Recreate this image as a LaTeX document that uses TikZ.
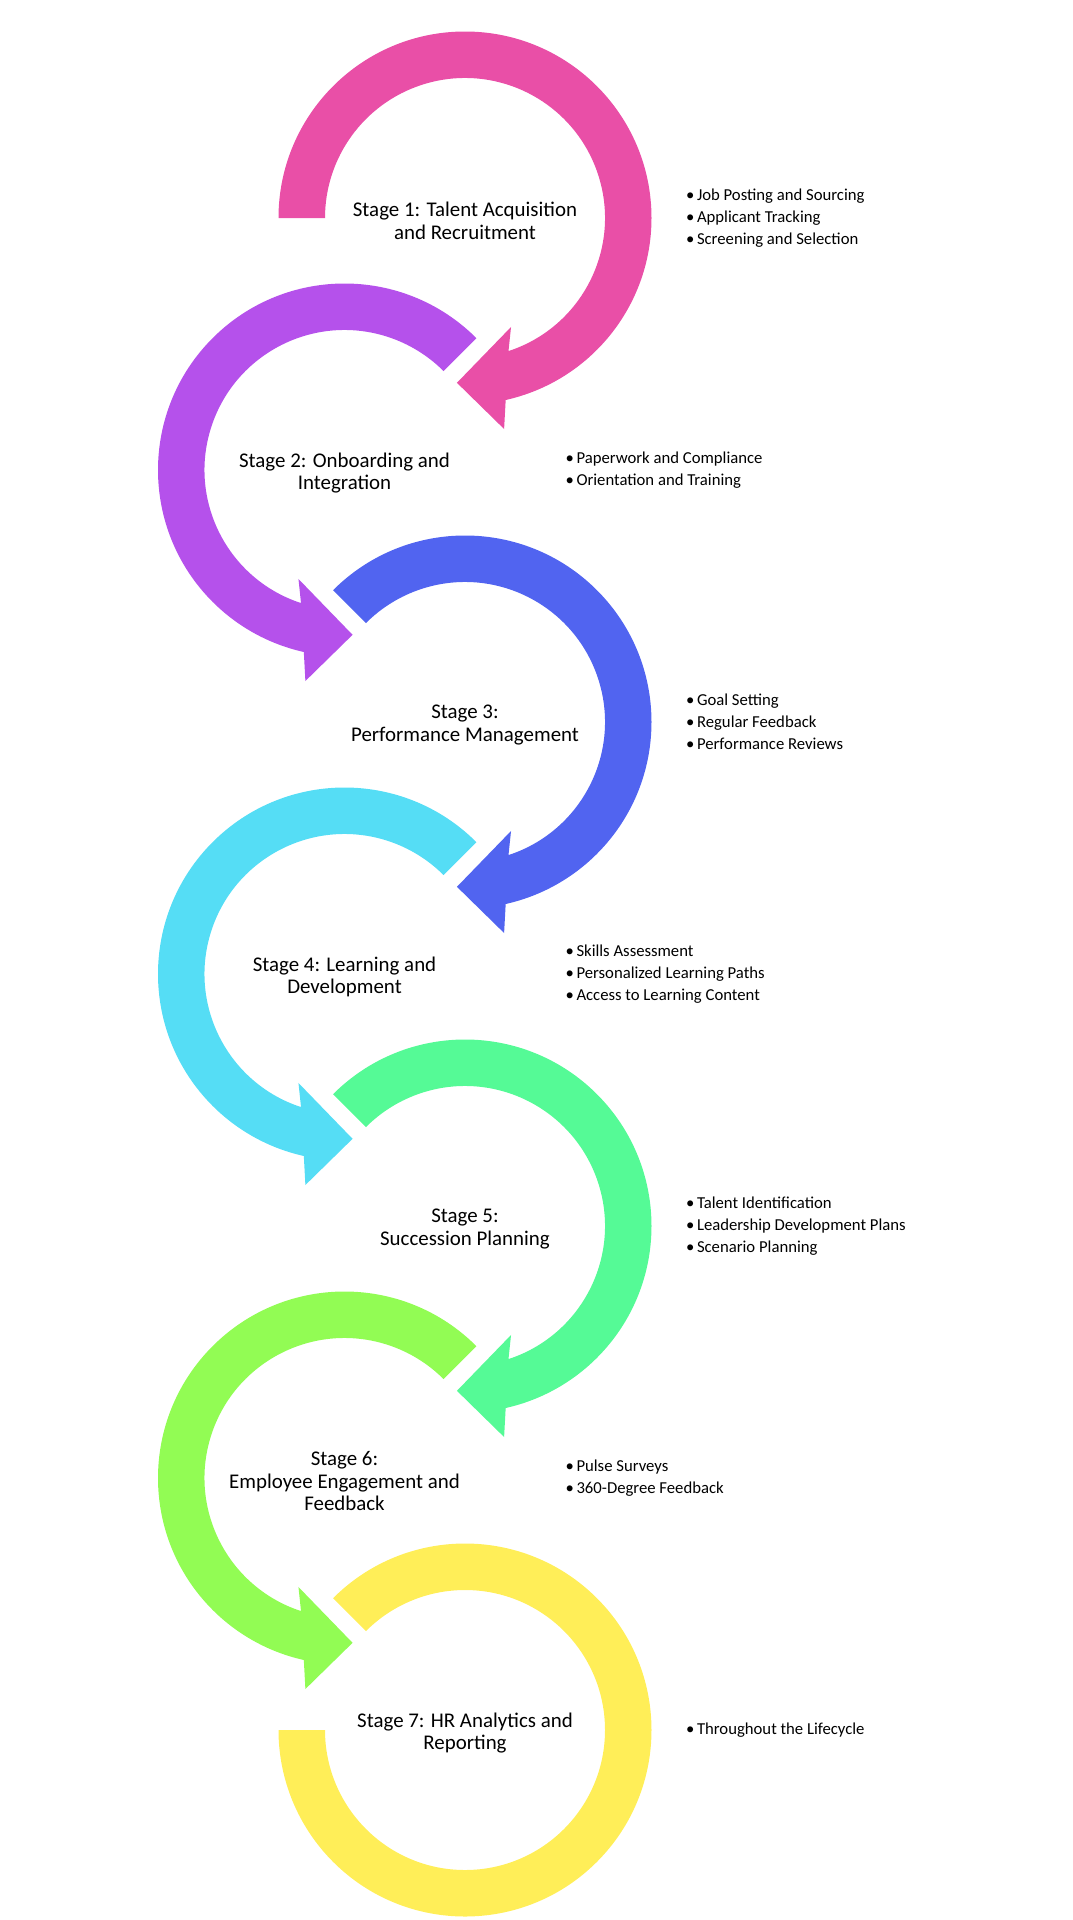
\documentclass[tikz,border=0pt]{standalone}
\usepackage{fontspec}
\setmainfont{Carlito}
\definecolor{pinkc}{RGB}{233,79,167}
\definecolor{purplec}{RGB}{181,81,235}
\definecolor{bluec}{RGB}{81,100,240}
\definecolor{cyanc}{RGB}{85,221,245}
\definecolor{mintc}{RGB}{85,250,150}
\definecolor{limec}{RGB}{146,252,84}
\definecolor{yellowc}{RGB}{255,238,88}
\newcommand\cycarrow[2]{%
  \fill[#2] (#1:186.5) arc[start angle=#1, end angle=-77.4, radius=186.5]
    -- (-79.5:214.6) -- (-92.8:165) -- (-67.1:118.3) -- (-71.9:140)
    arc[start angle=-71.9, end angle=#1, radius=140] -- cycle;}
\newcommand\bul{\textbullet\hspace{2.5pt}}
\begin{document}
\begin{tikzpicture}[x=1pt,y=1pt,
  stagetext/.style={align=center, font=\fontsize{20.9}{22.5}\selectfont, inner sep=0pt, text=black, yshift=-3pt},
  bullettext/.style={align=left, anchor=west, font=\fontsize{16.7}{22}\selectfont, inner sep=0pt, text=black}]
\useasboundingbox (0,0) rectangle (1073,-1920);
% arrows
\begin{scope}[shift={(465,-218)}] \cycarrow{180}{pinkc} \end{scope}
\begin{scope}[shift={(344.5,-470)}, xscale=-1] \cycarrow{135}{purplec} \end{scope}
\begin{scope}[shift={(465,-722)}] \cycarrow{135}{bluec} \end{scope}
\begin{scope}[shift={(344.5,-974)}, xscale=-1] \cycarrow{135}{cyanc} \end{scope}
\begin{scope}[shift={(465,-1226)}] \cycarrow{135}{mintc} \end{scope}
\begin{scope}[shift={(344.5,-1478)}, xscale=-1] \cycarrow{135}{limec} \end{scope}
\begin{scope}[shift={(465,-1730)}]
  \fill[yellowc] (135:186.5) arc[start angle=135, end angle=-180, radius=186.5]
    -- (180:140) arc[start angle=-180, end angle=135, radius=140] -- cycle;
\end{scope}
% stage labels
\node[stagetext] (s1) at (465,-218) {Stage 1: Talent Acquisition\\and Recruitment};
\node[stagetext] (s2) at (344.5,-470) {Stage 2: Onboarding and\\Integration};
\node[stagetext] (s3) at (465,-722) {Stage 3:\\Performance Management};
\node[stagetext] (s4) at (344.5,-974) {Stage 4: Learning and\\Development};
\node[stagetext] (s5) at (465,-1226) {Stage 5:\\Succession Planning};
\node[stagetext] (s6) at (344.5,-1478) {Stage 6:\\Employee Engagement and\\Feedback};
\node[stagetext] (s7) at (465,-1730) {Stage 7: HR Analytics and\\Reporting};
% bullet lists
\node[bullettext] (b1) at (686,-218) {\bul Job Posting and Sourcing\\\bul Applicant Tracking\\\bul Screening and Selection};
\node[bullettext] (b2) at (565.5,-470) {\bul Paperwork and Compliance\\\bul Orientation and Training};
\node[bullettext] (b3) at (686,-722) {\bul Goal Setting\\\bul Regular Feedback\\\bul Performance Reviews};
\node[bullettext] (b4) at (565.5,-974) {\bul Skills Assessment\\\bul Personalized Learning Paths\\\bul Access to Learning Content};
\node[bullettext] (b5) at (686,-1226) {\bul Talent Identification\\\bul Leadership Development Plans\\\bul Scenario Planning};
\node[bullettext] (b6) at (565.5,-1478) {\bul Pulse Surveys\\\bul 360-Degree Feedback};
\node[bullettext] (b7) at (686,-1730) {\bul Throughout the Lifecycle};
\end{tikzpicture}
\end{document}
